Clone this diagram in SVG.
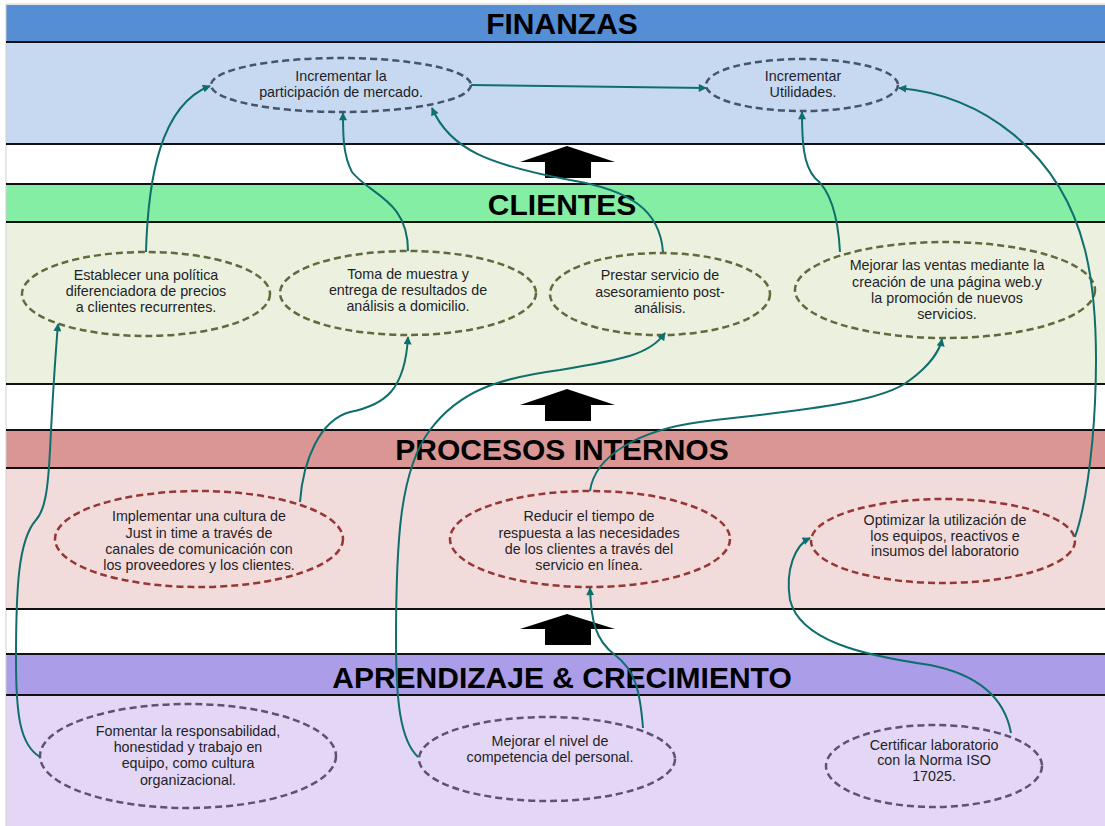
<svg xmlns="http://www.w3.org/2000/svg" width="1105" height="826" viewBox="0 0 1105 826">
<defs>
<marker id="ah" viewBox="0 0 10 10" refX="9" refY="5" markerWidth="9" markerHeight="8" markerUnits="userSpaceOnUse" orient="auto">
<path d="M0,0 L10,5 L0,10 z" fill="#0f6f6c"/>
</marker>
<style>
.hdr{font-family:"Liberation Sans",Arial,sans-serif;font-weight:bold;font-size:30px;fill:#000;text-anchor:middle}
.t{font-family:"Liberation Sans",Arial,sans-serif;font-size:14.3px;fill:#1e1e28;text-anchor:middle}
.sep{stroke:#111;stroke-width:2}
.e{stroke-width:2.5;stroke-dasharray:7 4;}
.fin{fill:#c6d9f1;stroke:#44546a}
.cli{fill:#ebf1de;stroke:#5f6b3c}
.pro{fill:#f2dcdb;stroke:#953735}
.apr{fill:#e4d7f5;stroke:#5f5170}
.c{fill:none;stroke:#0f6f6c;stroke-width:2;marker-end:url(#ah)}
.blk{fill:#000}
</style>
</defs>
<rect x="0" y="0" width="1105" height="826" fill="#fff"/>
<!-- bands -->
<g id="bands">
<rect x="6" y="5" width="1099" height="37" fill="#558ed5"/>
<rect x="6" y="42" width="1099" height="102" fill="#c6d9f1"/>
<rect x="6" y="144" width="1099" height="40" fill="#fff"/>
<rect x="6" y="184" width="1099" height="38" fill="#85eea5"/>
<rect x="6" y="222" width="1099" height="162" fill="#ebf1de"/>
<rect x="6" y="384" width="1099" height="46" fill="#fff"/>
<rect x="6" y="430" width="1099" height="38" fill="#d99694"/>
<rect x="6" y="468" width="1099" height="141" fill="#f2dcdb"/>
<rect x="6" y="609" width="1099" height="45" fill="#fff"/>
<rect x="6" y="654" width="1099" height="41" fill="#ab9de8"/>
<rect x="6" y="695" width="1099" height="131" fill="#e4d7f5"/>
<line x1="6" y1="4" x2="1105" y2="4" stroke="#cfcfcf" stroke-width="1"/>
<line x1="6" y1="4" x2="6" y2="826" stroke="#cfcfcf" stroke-width="1"/>
<line class="sep" x1="6" y1="42" x2="1105" y2="42"/>
<line class="sep" x1="6" y1="144" x2="1105" y2="144"/>
<line class="sep" x1="6" y1="184" x2="1105" y2="184"/>
<line class="sep" x1="6" y1="222" x2="1105" y2="222"/>
<line class="sep" x1="6" y1="384" x2="1105" y2="384"/>
<line class="sep" x1="6" y1="430" x2="1105" y2="430"/>
<line class="sep" x1="6" y1="468" x2="1105" y2="468"/>
<line class="sep" x1="6" y1="609" x2="1105" y2="609"/>
<line class="sep" x1="6" y1="654" x2="1105" y2="654"/>
<line class="sep" x1="6" y1="695" x2="1105" y2="695"/>
<text class="hdr" x="562" y="34">FINANZAS</text>
<text class="hdr" x="562" y="215">CLIENTES</text>
<text class="hdr" x="562" y="460">PROCESOS INTERNOS</text>
<text class="hdr" x="562" y="688">APRENDIZAJE &amp; CRECIMIENTO</text>
<path class="blk" d="M567,146 L615,162 L591,162 L591,178 L545,178 L545,162 L520,162 Z"/>
<path class="blk" d="M567,389 L615,405 L591,405 L591,421 L545,421 L545,405 L520,405 Z"/>
<path class="blk" d="M567,614 L615,629 L591,629 L591,645 L545,645 L545,629 L520,629 Z"/>
</g>
<!-- nodes -->
<g id="n1"><ellipse class="e fin" cx="341" cy="85" rx="130" ry="27"/>
<text class="t" x="341" y="81">Incrementar  la</text><text class="t" x="341" y="97">participación de mercado.</text></g>
<g id="n2"><ellipse class="e fin" cx="802" cy="85" rx="96" ry="26"/>
<text class="t" x="803" y="81">Incrementar</text><text class="t" x="803" y="97">Utilidades.</text></g>
<g id="n3"><ellipse class="e cli" cx="146" cy="294" rx="124" ry="42"/>
<text class="t" x="146" y="280">Establecer una política</text><text class="t" x="146" y="296">diferenciadora de precios</text><text class="t" x="146" y="312">a clientes recurrentes.</text></g>
<g id="n4"><ellipse class="e cli" cx="408" cy="293" rx="128" ry="42"/>
<text class="t" x="408" y="279">Toma de muestra y</text><text class="t" x="408" y="295">entrega de resultados de</text><text class="t" x="408" y="311">análisis a domicilio.</text></g>
<g id="n5"><ellipse class="e cli" cx="660" cy="294" rx="110" ry="41"/>
<text class="t" x="660" y="280">Prestar servicio de</text><text class="t" x="660" y="297">asesoramiento post-</text><text class="t" x="660" y="313">análisis.</text></g>
<g id="n6"><ellipse class="e cli" cx="945" cy="290" rx="150" ry="48"/>
<text class="t" x="947" y="270">Mejorar las ventas mediante la</text><text class="t" x="947" y="287">creación de  una página web.y</text><text class="t" x="947" y="303">la promoción de nuevos</text><text class="t" x="947" y="319">servicios.</text></g>
<g id="n7"><ellipse class="e pro" cx="199" cy="539" rx="144" ry="48"/>
<text class="t" x="199" y="521">Implementar una cultura de</text><text class="t" x="199" y="538">Just in time a través de</text><text class="t" x="199" y="554">canales de comunicación con</text><text class="t" x="199" y="570">los proveedores y los clientes.</text></g>
<g id="n8"><ellipse class="e pro" cx="590" cy="539" rx="140" ry="48"/>
<text class="t" x="589" y="521">Reducir el tiempo de</text><text class="t" x="589" y="538">respuesta a las necesidades</text><text class="t" x="589" y="554">de los clientes a través del</text><text class="t" x="589" y="570">servicio en línea.</text></g>
<g id="n9"><ellipse class="e pro" cx="943" cy="541" rx="132" ry="42"/>
<text class="t" x="945" y="525">Optimizar la utilización de</text><text class="t" x="945" y="541">los equipos, reactivos e</text><text class="t" x="945" y="556">insumos del laboratorio</text></g>
<g id="n10"><ellipse class="e apr" cx="188" cy="756" rx="148" ry="52"/>
<text class="t" x="188" y="736">Fomentar la responsabilidad,</text><text class="t" x="188" y="752">honestidad y trabajo en</text><text class="t" x="188" y="768">equipo, como cultura</text><text class="t" x="188" y="785">organizacional.</text></g>
<g id="n11"><ellipse class="e apr" cx="547" cy="759" rx="128" ry="42"/>
<text class="t" x="550" y="746">Mejorar el nivel de</text><text class="t" x="550" y="762">competencia del personal.</text></g>
<g id="n12"><ellipse class="e apr" cx="934" cy="766" rx="108" ry="41"/>
<text class="t" x="934" y="750">Certificar laboratorio</text><text class="t" x="934" y="765">con la Norma ISO</text><text class="t" x="934" y="781">17025.</text></g>
<!-- connectors -->
<g id="connectors">
<path class="c" d="M471,85 L706,88"/>
<path class="c" d="M146,252 C148,180 160,105 210,86"/>
<path class="c" d="M408,251 C408,200 370,195 352,172 C343,155 343,135 343,113"/>
<path class="c" d="M663,252 C660,210 630,190 570,180 C490,165 450,150 432,108"/>
<path class="c" d="M840,252 C838,215 830,190 815,178 C803,165 802,140 802,112"/>
<path class="c" d="M1075,537 C1095,480 1105,330 1085,250 C1060,150 980,95 899,88"/>
<path class="c" d="M40,757 C20,745 16,715 16,660 C16,590 18,540 36,520 C45,510 48,490 50,450 C52,410 55,360 58,324"/>
<path class="c" d="M300,502 C303,460 320,420 350,412 C385,405 405,390 408,337"/>
<path class="c" d="M418,757 C400,740 396,700 396,640 C396,540 400,470 430,430 C460,390 500,378 560,370 C620,360 650,355 665,333"/>
<path class="c" d="M643,728 C640,690 635,670 615,655 C595,640 591,620 590,588"/>
<path class="c" d="M590,491 C595,455 640,430 700,422 C780,412 880,405 910,380 C930,365 940,350 942,339"/>
<path class="c" d="M1011,733 C1005,700 980,675 930,665 C860,655 800,640 790,600 C785,570 795,545 810,538"/>
</g>
</svg>
